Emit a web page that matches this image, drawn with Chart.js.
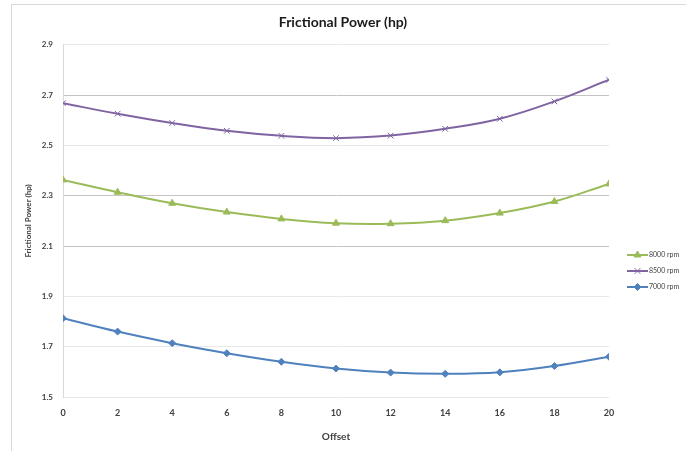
<!DOCTYPE html>
<html>
<head>
<meta charset="utf-8">
<script src="https://cdn.jsdelivr.net/npm/chart.js@4"></script>
<style>
    html, body { margin: 0; padding: 0; background: #fff; overflow: hidden; }
    #frame {
        position: absolute; left: 11px; top: 4px; width: 700px; height: 470px;
        border: 1px solid #d9d9d9;
    }
    #wrap { position: absolute; left: 0; top: 0; width: 686px; height: 451px; }
</style>
</head>
<body>
<div id="frame"></div>
<div id="wrap"><canvas id="chart"></canvas></div>
<script>
// ── Data ──────────────────────────────────────────────────────────────────
const offsets = [0, 2, 4, 6, 8, 10, 12, 14, 16, 18, 20];
const rpm8000 = [2.363, 2.314, 2.270, 2.235, 2.208, 2.191, 2.189, 2.201, 2.231, 2.277, 2.347];
const rpm8500 = [2.668, 2.626, 2.589, 2.558, 2.538, 2.529, 2.539, 2.566, 2.606, 2.675, 2.761];
const rpm7000 = [1.813, 1.760, 1.714, 1.674, 1.640, 1.613, 1.597, 1.592, 1.598, 1.623, 1.660];
const seriesNames = ['8000 rpm', '8500 rpm', '7000 rpm'];
const yTicks = [1.5, 1.7, 1.9, 2.1, 2.3, 2.5, 2.7, 2.9];

const FONT = 'Lato, "Open Sans", sans-serif';
const TEXT = '#404040';

const toPoints = (vals) => vals.map((v, i) => ({ x: offsets[i], y: v }));

const seriesStyle = [
    { color: '#9bbb59', point: 'triangle', radius: 4, pw: 1 },
    { color: '#8064a2', point: 'crossRot', radius: 4, pw: 1 },
    { color: '#4f81bd', point: 'rectRot', radius: 3.5, pw: 1 },
];
const seriesData = [rpm8000, rpm8500, rpm7000];

// Legend drawn on the canvas, Excel style (line + marker + text)
const sideLegend = {
    id: 'sideLegend',
    afterDraw(chart) {
        const { ctx } = chart;
        const x0 = 627, x1 = 648, y0 = 255, step = 16;
        ctx.save();
        chart.data.datasets.forEach((ds, i) => {
            const y = y0 + i * step;
            ctx.strokeStyle = ds.borderColor;
            ctx.lineWidth = 2;
            ctx.beginPath();
            ctx.moveTo(x0, y);
            ctx.lineTo(x1, y);
            ctx.stroke();
            ctx.fillStyle = ds.pointBackgroundColor;
            ctx.strokeStyle = ds.pointBorderColor;
            ctx.lineWidth = 1;
            Chart.helpers.drawPoint(ctx, { pointStyle: ds.pointStyle, radius: ds.pointRadius, rotation: 0, borderWidth: 1 }, (x0 + x1) / 2, y);
            ctx.fillStyle = TEXT;
            ctx.font = '7px ' + FONT;
            ctx.textBaseline = 'middle';
            ctx.fillText(ds.label, x1 + 1, y);
        });
        ctx.restore();
    },
};

new Chart(document.getElementById('chart'), {
    type: 'line',
    data: {
        datasets: seriesNames.map((name, i) => ({
            label: name,
            data: toPoints(seriesData[i]),
            borderColor: seriesStyle[i].color,
            backgroundColor: seriesStyle[i].color,
            pointBackgroundColor: seriesStyle[i].color,
            pointBorderColor: seriesStyle[i].color,
            pointStyle: seriesStyle[i].point,
            pointRadius: seriesStyle[i].radius,
            pointBorderWidth: seriesStyle[i].pw,
            borderWidth: 2,
            tension: 0.4,
            fill: false,
        })),
    },
    options: {
        responsive: true,
        maintainAspectRatio: false,
        animation: false,
        layout: { padding: { left: 0, right: 0, top: 12, bottom: 8 } },
        plugins: {
            legend: { display: false },
            tooltip: { enabled: false },
            title: {
                display: true,
                text: 'Frictional Power (hp)',
                color: '#1a1a1a',
                font: { family: FONT, size: 14, weight: 'bold' },
                padding: { top: 2, bottom: 14 },
            },
        },
        scales: {
            x: {
                type: 'linear',
                min: 0,
                max: 20,
                afterFit: (s) => { s.height = 46; },
                afterBuildTicks: (s) => { s.ticks = offsets.map((v) => ({ value: v })); },
                ticks: { color: TEXT, font: { family: FONT, size: 9, weight: 'bold' }, padding: 11 },
                grid: { display: false, drawTicks: false },
                border: { display: false },
                title: {
                    display: true,
                    text: 'Offset',
                    color: TEXT,
                    font: { family: FONT, size: 10, weight: 'bold' },
                    padding: { top: 4, bottom: 0 },
                },
            },
            y: {
                min: 1.5,
                max: 2.9,
                afterFit: (s) => { s.width = 63; },
                afterBuildTicks: (s) => { s.ticks = yTicks.map((v) => ({ value: v })); },
                ticks: {
                    color: TEXT,
                    font: { family: FONT, size: 8, weight: 'bold' },
                    padding: 10,
                    callback: (v) => v.toFixed(1),
                },
                grid: {
                    drawTicks: false,
                    color: (c) => ([2.1, 2.3, 2.7].some((t) => Math.abs(t - c.tick.value) < 1e-6) ? '#c4c4c4' : '#e8e8e8'),
                },
                border: { display: true, color: '#d9d9d9' },
                title: {
                    display: true,
                    text: 'Frictional Power (hp)',
                    color: TEXT,
                    font: { family: FONT, size: 8, weight: 'bold' },
                    padding: { top: 24, bottom: 0 },
                },
            },
            yRight: {
                position: 'right',
                display: true,
                afterFit: (s) => { s.width = 77; },
                ticks: { display: false },
                grid: { display: false, drawTicks: false },
                border: { display: false },
            },
        },
    },
    plugins: [sideLegend],
});
</script>
</body>
</html>
